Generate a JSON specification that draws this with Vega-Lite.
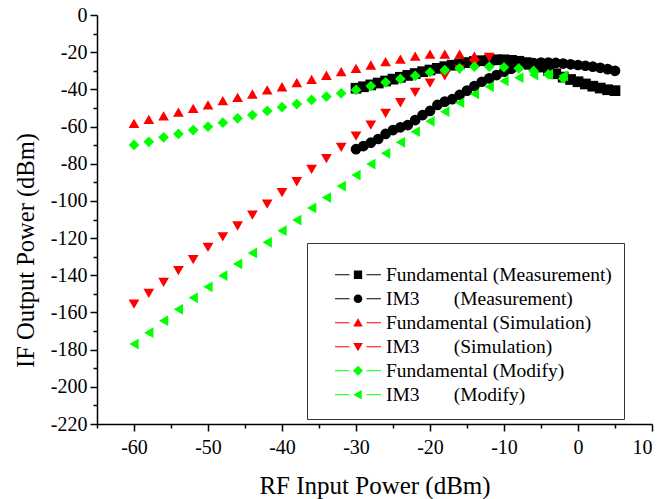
{
  "$schema": "https://vega.github.io/schema/vega-lite/v6.json",
  "width": 555,
  "height": 409,
  "autosize": {"type": "none"},
  "padding": {"left": 97, "top": 15, "right": 6, "bottom": 75},
  "background": "white",
  "config": {
    "view": {"stroke": null},
    "font": "Liberation Serif",
    "axis": {
      "domainColor": "black",
      "domainWidth": 1.5,
      "tickColor": "black",
      "tickWidth": 1.5,
      "labelColor": "black",
      "labelFont": "Liberation Serif",
      "labelFontSize": 20,
      "titleFont": "Liberation Serif",
      "titleFontWeight": "normal",
      "titleColor": "black",
      "titleFontSize": 25,
      "grid": false
    }
  },
  "data": {
    "values": [
      {"x": -30, "y": -39.4, "s": "Fundamental (Measurement)"},
      {"x": -29, "y": -38.6, "s": "Fundamental (Measurement)"},
      {"x": -28, "y": -37.6, "s": "Fundamental (Measurement)"},
      {"x": -27, "y": -36.6, "s": "Fundamental (Measurement)"},
      {"x": -26, "y": -35.5, "s": "Fundamental (Measurement)"},
      {"x": -25, "y": -34.5, "s": "Fundamental (Measurement)"},
      {"x": -24, "y": -33.5, "s": "Fundamental (Measurement)"},
      {"x": -23, "y": -32.5, "s": "Fundamental (Measurement)"},
      {"x": -22, "y": -31.5, "s": "Fundamental (Measurement)"},
      {"x": -21, "y": -30.5, "s": "Fundamental (Measurement)"},
      {"x": -20, "y": -29.6, "s": "Fundamental (Measurement)"},
      {"x": -19, "y": -28.7, "s": "Fundamental (Measurement)"},
      {"x": -18, "y": -27.8, "s": "Fundamental (Measurement)"},
      {"x": -17, "y": -27.0, "s": "Fundamental (Measurement)"},
      {"x": -16, "y": -26.3, "s": "Fundamental (Measurement)"},
      {"x": -15, "y": -25.6, "s": "Fundamental (Measurement)"},
      {"x": -14, "y": -25.0, "s": "Fundamental (Measurement)"},
      {"x": -13, "y": -24.6, "s": "Fundamental (Measurement)"},
      {"x": -12, "y": -24.3, "s": "Fundamental (Measurement)"},
      {"x": -11, "y": -24.1, "s": "Fundamental (Measurement)"},
      {"x": -10, "y": -24.1, "s": "Fundamental (Measurement)"},
      {"x": -9, "y": -24.4, "s": "Fundamental (Measurement)"},
      {"x": -8, "y": -24.9, "s": "Fundamental (Measurement)"},
      {"x": -7, "y": -25.6, "s": "Fundamental (Measurement)"},
      {"x": -6, "y": -26.6, "s": "Fundamental (Measurement)"},
      {"x": -5, "y": -28.0, "s": "Fundamental (Measurement)"},
      {"x": -4, "y": -29.8, "s": "Fundamental (Measurement)"},
      {"x": -3, "y": -31.6, "s": "Fundamental (Measurement)"},
      {"x": -2, "y": -33.4, "s": "Fundamental (Measurement)"},
      {"x": -1, "y": -34.7, "s": "Fundamental (Measurement)"},
      {"x": 0, "y": -35.9, "s": "Fundamental (Measurement)"},
      {"x": 1, "y": -37.1, "s": "Fundamental (Measurement)"},
      {"x": 2, "y": -38.3, "s": "Fundamental (Measurement)"},
      {"x": 3, "y": -39.3, "s": "Fundamental (Measurement)"},
      {"x": 4, "y": -40.2, "s": "Fundamental (Measurement)"},
      {"x": 5, "y": -40.7, "s": "Fundamental (Measurement)"},

      {"x": -30, "y": -72.2, "s": "IM3 (Measurement)"},
      {"x": -29, "y": -70.5, "s": "IM3 (Measurement)"},
      {"x": -28, "y": -68.7, "s": "IM3 (Measurement)"},
      {"x": -27, "y": -66.7, "s": "IM3 (Measurement)"},
      {"x": -26, "y": -64.0, "s": "IM3 (Measurement)"},
      {"x": -25, "y": -61.9, "s": "IM3 (Measurement)"},
      {"x": -24, "y": -60.4, "s": "IM3 (Measurement)"},
      {"x": -23, "y": -59.2, "s": "IM3 (Measurement)"},
      {"x": -22, "y": -56.5, "s": "IM3 (Measurement)"},
      {"x": -21, "y": -53.8, "s": "IM3 (Measurement)"},
      {"x": -20, "y": -51.6, "s": "IM3 (Measurement)"},
      {"x": -19, "y": -48.4, "s": "IM3 (Measurement)"},
      {"x": -18, "y": -46.6, "s": "IM3 (Measurement)"},
      {"x": -17, "y": -45.3, "s": "IM3 (Measurement)"},
      {"x": -16, "y": -43.0, "s": "IM3 (Measurement)"},
      {"x": -15, "y": -40.7, "s": "IM3 (Measurement)"},
      {"x": -14, "y": -38.2, "s": "IM3 (Measurement)"},
      {"x": -13, "y": -35.9, "s": "IM3 (Measurement)"},
      {"x": -12, "y": -34.1, "s": "IM3 (Measurement)"},
      {"x": -11, "y": -32.3, "s": "IM3 (Measurement)"},
      {"x": -10, "y": -30.5, "s": "IM3 (Measurement)"},
      {"x": -9, "y": -28.9, "s": "IM3 (Measurement)"},
      {"x": -8, "y": -27.6, "s": "IM3 (Measurement)"},
      {"x": -7, "y": -26.6, "s": "IM3 (Measurement)"},
      {"x": -6, "y": -25.9, "s": "IM3 (Measurement)"},
      {"x": -5, "y": -25.6, "s": "IM3 (Measurement)"},
      {"x": -4, "y": -25.6, "s": "IM3 (Measurement)"},
      {"x": -3, "y": -25.8, "s": "IM3 (Measurement)"},
      {"x": -2, "y": -26.1, "s": "IM3 (Measurement)"},
      {"x": -1, "y": -26.5, "s": "IM3 (Measurement)"},
      {"x": 0, "y": -26.9, "s": "IM3 (Measurement)"},
      {"x": 1, "y": -27.3, "s": "IM3 (Measurement)"},
      {"x": 2, "y": -27.8, "s": "IM3 (Measurement)"},
      {"x": 3, "y": -28.4, "s": "IM3 (Measurement)"},
      {"x": 4, "y": -29.1, "s": "IM3 (Measurement)"},
      {"x": 5, "y": -30.0, "s": "IM3 (Measurement)"},

      {"x": -60, "y": -58.3, "s": "Fundamental (Simulation)"},
      {"x": -58, "y": -56.1, "s": "Fundamental (Simulation)"},
      {"x": -56, "y": -54.3, "s": "Fundamental (Simulation)"},
      {"x": -54, "y": -52.2, "s": "Fundamental (Simulation)"},
      {"x": -52, "y": -50.2, "s": "Fundamental (Simulation)"},
      {"x": -50, "y": -48.4, "s": "Fundamental (Simulation)"},
      {"x": -48, "y": -46.1, "s": "Fundamental (Simulation)"},
      {"x": -46, "y": -44.3, "s": "Fundamental (Simulation)"},
      {"x": -44, "y": -42.5, "s": "Fundamental (Simulation)"},
      {"x": -42, "y": -40.3, "s": "Fundamental (Simulation)"},
      {"x": -40, "y": -38.6, "s": "Fundamental (Simulation)"},
      {"x": -38, "y": -36.4, "s": "Fundamental (Simulation)"},
      {"x": -36, "y": -34.6, "s": "Fundamental (Simulation)"},
      {"x": -34, "y": -32.4, "s": "Fundamental (Simulation)"},
      {"x": -32, "y": -30.5, "s": "Fundamental (Simulation)"},
      {"x": -30, "y": -28.7, "s": "Fundamental (Simulation)"},
      {"x": -28, "y": -26.9, "s": "Fundamental (Simulation)"},
      {"x": -26, "y": -25.1, "s": "Fundamental (Simulation)"},
      {"x": -24, "y": -23.7, "s": "Fundamental (Simulation)"},
      {"x": -22, "y": -22.1, "s": "Fundamental (Simulation)"},
      {"x": -20, "y": -21.1, "s": "Fundamental (Simulation)"},
      {"x": -18, "y": -21.0, "s": "Fundamental (Simulation)"},
      {"x": -16, "y": -21.0, "s": "Fundamental (Simulation)"},
      {"x": -14, "y": -22.1, "s": "Fundamental (Simulation)"},

      {"x": -60, "y": -155.5, "s": "IM3 (Simulation)"},
      {"x": -58, "y": -149.7, "s": "IM3 (Simulation)"},
      {"x": -56, "y": -143.8, "s": "IM3 (Simulation)"},
      {"x": -54, "y": -137.5, "s": "IM3 (Simulation)"},
      {"x": -52, "y": -131.6, "s": "IM3 (Simulation)"},
      {"x": -50, "y": -125.0, "s": "IM3 (Simulation)"},
      {"x": -48, "y": -119.4, "s": "IM3 (Simulation)"},
      {"x": -46, "y": -113.5, "s": "IM3 (Simulation)"},
      {"x": -44, "y": -107.6, "s": "IM3 (Simulation)"},
      {"x": -42, "y": -101.7, "s": "IM3 (Simulation)"},
      {"x": -40, "y": -95.6, "s": "IM3 (Simulation)"},
      {"x": -38, "y": -89.7, "s": "IM3 (Simulation)"},
      {"x": -36, "y": -83.0, "s": "IM3 (Simulation)"},
      {"x": -34, "y": -77.3, "s": "IM3 (Simulation)"},
      {"x": -32, "y": -71.2, "s": "IM3 (Simulation)"},
      {"x": -30, "y": -65.1, "s": "IM3 (Simulation)"},
      {"x": -28, "y": -59.2, "s": "IM3 (Simulation)"},
      {"x": -26, "y": -52.9, "s": "IM3 (Simulation)"},
      {"x": -24, "y": -47.2, "s": "IM3 (Simulation)"},
      {"x": -22, "y": -41.6, "s": "IM3 (Simulation)"},
      {"x": -20, "y": -36.7, "s": "IM3 (Simulation)"},
      {"x": -18, "y": -32.8, "s": "IM3 (Simulation)"},
      {"x": -16, "y": -29.3, "s": "IM3 (Simulation)"},
      {"x": -14, "y": -26.0, "s": "IM3 (Simulation)"},
      {"x": -12, "y": -22.8, "s": "IM3 (Simulation)"},

      {"x": -60, "y": -69.9, "s": "Fundamental (Modify)"},
      {"x": -58, "y": -68.2, "s": "Fundamental (Modify)"},
      {"x": -56, "y": -65.8, "s": "Fundamental (Modify)"},
      {"x": -54, "y": -64.0, "s": "Fundamental (Modify)"},
      {"x": -52, "y": -61.9, "s": "Fundamental (Modify)"},
      {"x": -50, "y": -60.1, "s": "Fundamental (Modify)"},
      {"x": -48, "y": -57.9, "s": "Fundamental (Modify)"},
      {"x": -46, "y": -55.6, "s": "Fundamental (Modify)"},
      {"x": -44, "y": -53.8, "s": "Fundamental (Modify)"},
      {"x": -42, "y": -51.6, "s": "Fundamental (Modify)"},
      {"x": -40, "y": -49.6, "s": "Fundamental (Modify)"},
      {"x": -38, "y": -47.9, "s": "Fundamental (Modify)"},
      {"x": -36, "y": -45.7, "s": "Fundamental (Modify)"},
      {"x": -34, "y": -43.9, "s": "Fundamental (Modify)"},
      {"x": -32, "y": -42.1, "s": "Fundamental (Modify)"},
      {"x": -30, "y": -40.3, "s": "Fundamental (Modify)"},
      {"x": -28, "y": -38.2, "s": "Fundamental (Modify)"},
      {"x": -26, "y": -36.2, "s": "Fundamental (Modify)"},
      {"x": -24, "y": -34.4, "s": "Fundamental (Modify)"},
      {"x": -22, "y": -32.7, "s": "Fundamental (Modify)"},
      {"x": -20, "y": -30.8, "s": "Fundamental (Modify)"},
      {"x": -18, "y": -29.6, "s": "Fundamental (Modify)"},
      {"x": -16, "y": -28.7, "s": "Fundamental (Modify)"},
      {"x": -14, "y": -27.8, "s": "Fundamental (Modify)"},
      {"x": -12, "y": -27.8, "s": "Fundamental (Modify)"},
      {"x": -10, "y": -28.1, "s": "Fundamental (Modify)"},
      {"x": -8, "y": -28.7, "s": "Fundamental (Modify)"},
      {"x": -6, "y": -30.1, "s": "Fundamental (Modify)"},
      {"x": -4, "y": -31.9, "s": "Fundamental (Modify)"},
      {"x": -2, "y": -34.1, "s": "Fundamental (Modify)"},

      {"x": -60, "y": -177.0, "s": "IM3 (Modify)"},
      {"x": -58, "y": -170.9, "s": "IM3 (Modify)"},
      {"x": -56, "y": -164.4, "s": "IM3 (Modify)"},
      {"x": -54, "y": -158.3, "s": "IM3 (Modify)"},
      {"x": -52, "y": -152.1, "s": "IM3 (Modify)"},
      {"x": -50, "y": -146.2, "s": "IM3 (Modify)"},
      {"x": -48, "y": -140.2, "s": "IM3 (Modify)"},
      {"x": -46, "y": -133.9, "s": "IM3 (Modify)"},
      {"x": -44, "y": -128.0, "s": "IM3 (Modify)"},
      {"x": -42, "y": -122.3, "s": "IM3 (Modify)"},
      {"x": -40, "y": -116.0, "s": "IM3 (Modify)"},
      {"x": -38, "y": -110.3, "s": "IM3 (Modify)"},
      {"x": -36, "y": -103.8, "s": "IM3 (Modify)"},
      {"x": -34, "y": -98.2, "s": "IM3 (Modify)"},
      {"x": -32, "y": -92.0, "s": "IM3 (Modify)"},
      {"x": -30, "y": -86.1, "s": "IM3 (Modify)"},
      {"x": -28, "y": -80.2, "s": "IM3 (Modify)"},
      {"x": -26, "y": -74.4, "s": "IM3 (Modify)"},
      {"x": -24, "y": -68.5, "s": "IM3 (Modify)"},
      {"x": -22, "y": -62.8, "s": "IM3 (Modify)"},
      {"x": -20, "y": -57.2, "s": "IM3 (Modify)"},
      {"x": -18, "y": -52.0, "s": "IM3 (Modify)"},
      {"x": -16, "y": -47.2, "s": "IM3 (Modify)"},
      {"x": -14, "y": -42.5, "s": "IM3 (Modify)"},
      {"x": -12, "y": -38.6, "s": "IM3 (Modify)"},
      {"x": -10, "y": -35.5, "s": "IM3 (Modify)"},
      {"x": -8, "y": -33.7, "s": "IM3 (Modify)"},
      {"x": -6, "y": -32.3, "s": "IM3 (Modify)"},
      {"x": -4, "y": -31.9, "s": "IM3 (Modify)"},
      {"x": -2, "y": -32.7, "s": "IM3 (Modify)"}
    ]
  },
  "layer": [
    {
      "mark": {"type": "point", "filled": true, "opacity": 1, "strokeWidth": 0, "size": 115},
      "encoding": {
        "x": {
          "field": "x", "type": "quantitative",
          "scale": {"domain": [-65, 10], "nice": false, "zero": false},
          "axis": {"orient": "bottom", "values": [-60, -50, -40, -30, -20, -10, 0, 10], "tickSize": 7, "labelPadding": 6, "labelExpr": "'' + datum.value", "title": "RF Input Power (dBm)", "titlePadding": 16}
        },
        "y": {
          "field": "y", "type": "quantitative",
          "scale": {"domain": [-220, 0], "nice": false, "zero": false},
          "axis": {"orient": "left", "values": [0, -20, -40, -60, -80, -100, -120, -140, -160, -180, -200, -220], "tickSize": 7, "labelPadding": 3, "labelExpr": "'' + datum.value", "title": "IF Output Power (dBm)", "titleFontSize": 24.5, "titleX": -59, "titleY": 235}
        },
        "color": {
          "field": "s", "type": "nominal",
          "scale": {
            "domain": ["Fundamental (Measurement)", "IM3 (Measurement)", "Fundamental (Simulation)", "IM3 (Simulation)", "Fundamental (Modify)", "IM3 (Modify)"],
            "range": ["#000000", "#000000", "#FF0000", "#FF0000", "#00FF00", "#00FF00"]
          },
          "legend": null
        },
        "shape": {
          "field": "s", "type": "nominal",
          "scale": {
            "domain": ["Fundamental (Measurement)", "IM3 (Measurement)", "Fundamental (Simulation)", "IM3 (Simulation)", "Fundamental (Modify)", "IM3 (Modify)"],
            "range": ["square", "circle", "triangle-up", "triangle-down", "diamond", "triangle-left"]
          },
          "legend": null
        }
      }
    },
    {
      "mark": {"type": "point", "filled": true, "opacity": 1, "strokeWidth": 0, "size": 0},
      "encoding": {
        "x": {
          "field": "x", "type": "quantitative",
          "scale": {"domain": [-65, 10], "nice": false, "zero": false},
          "axis": {"orient": "bottom", "values": [-65, -55, -45, -35, -25, -15, -5, 5], "tickSize": 4, "labels": false, "domain": false, "title": null}
        },
        "y": {
          "field": "y", "type": "quantitative",
          "scale": {"domain": [-220, 0], "nice": false, "zero": false},
          "axis": {"orient": "left", "values": [-10, -30, -50, -70, -90, -110, -130, -150, -170, -190, -210], "tickSize": 4, "labels": false, "domain": false, "title": null}
        },
        "color": {
          "field": "s", "type": "nominal",
          "scale": {
            "domain": ["Fundamental (Measurement)", "IM3 (Measurement)", "Fundamental (Simulation)", "IM3 (Simulation)", "Fundamental (Modify)", "IM3 (Modify)"],
            "range": ["#000000", "#000000", "#FF0000", "#FF0000", "#00FF00", "#00FF00"]
          },
          "legend": {
            "title": "\u00a0", "titleFontSize": 8, "titlePadding": 0,
            "orient": "none", "legendX": 210, "legendY": 228,
            "padding": 12, "symbolSize": 2116, "symbolOffset": 16, "labelOffset": 5,
            "symbolOpacity": 1, "symbolStrokeWidth": 0,
            "clipHeight": 23.5, "rowPadding": -0.5, "labelFont": "Liberation Serif", "labelFontSize": 19.5,
            "labelColor": "black", "labelLimit": 400, "strokeColor": "#333333", "fillColor": "white",
            "labelExpr": "indexof(datum.label, 'IM3') === 0 ? '\u00a0\u00a0\u00a0\u00a0\u00a0\u00a0\u00a0\u00a0IM3\u00a0\u00a0\u00a0\u00a0\u00a0\u00a0\u00a0' + substring(datum.label, 4) : datum.label",
            "encode": {"legend": {"strokeWidth": {"value": 1.5}}}
          }
        },
        "shape": {
          "field": "s", "type": "nominal",
          "scale": {
            "domain": ["Fundamental (Measurement)", "IM3 (Measurement)", "Fundamental (Simulation)", "IM3 (Simulation)", "Fundamental (Modify)", "IM3 (Modify)"],
            "range": [
              "M-1,-0.025H-0.37V0.025H-1ZM0.37,-0.025H1V0.025H0.37ZM-0.18,-0.18H0.18V0.18H-0.18Z",
              "M-1,-0.025H-0.37V0.025H-1ZM0.37,-0.025H1V0.025H0.37ZM0.19,0A0.19,0.19,0,1,1,-0.19,0A0.19,0.19,0,1,1,0.19,0Z",
              "M-1,-0.025H-0.37V0.025H-1ZM0.37,-0.025H1V0.025H0.37ZM0,-0.2L0.21,0.16L-0.21,0.16Z",
              "M-1,-0.025H-0.37V0.025H-1ZM0.37,-0.025H1V0.025H0.37ZM0,0.2L0.21,-0.16L-0.21,-0.16Z",
              "M-1,-0.025H-0.37V0.025H-1ZM0.37,-0.025H1V0.025H0.37ZM0,-0.22L0.22,0L0,0.22L-0.22,0Z",
              "M-1,-0.025H-0.37V0.025H-1ZM0.37,-0.025H1V0.025H0.37ZM-0.2,0L0.16,-0.21L0.16,0.21Z"
            ]
          },
          "legend": {
            "title": "\u00a0", "titleFontSize": 8, "titlePadding": 0,
            "orient": "none", "legendX": 210, "legendY": 228,
            "padding": 12, "symbolSize": 2116, "symbolOffset": 16, "labelOffset": 5,
            "symbolOpacity": 1, "symbolStrokeWidth": 0,
            "clipHeight": 23.5, "rowPadding": -0.5, "labelFont": "Liberation Serif", "labelFontSize": 19.5,
            "labelColor": "black", "labelLimit": 400, "strokeColor": "#333333", "fillColor": "white",
            "labelExpr": "indexof(datum.label, 'IM3') === 0 ? '\u00a0\u00a0\u00a0\u00a0\u00a0\u00a0\u00a0\u00a0IM3\u00a0\u00a0\u00a0\u00a0\u00a0\u00a0\u00a0' + substring(datum.label, 4) : datum.label",
            "encode": {"legend": {"strokeWidth": {"value": 1.5}}}
          }
        }
      }
    }
  ],
  "resolve": {
    "axis": {"x": "independent", "y": "independent"},
    "scale": {"color": "independent", "shape": "independent"}
  }
}
